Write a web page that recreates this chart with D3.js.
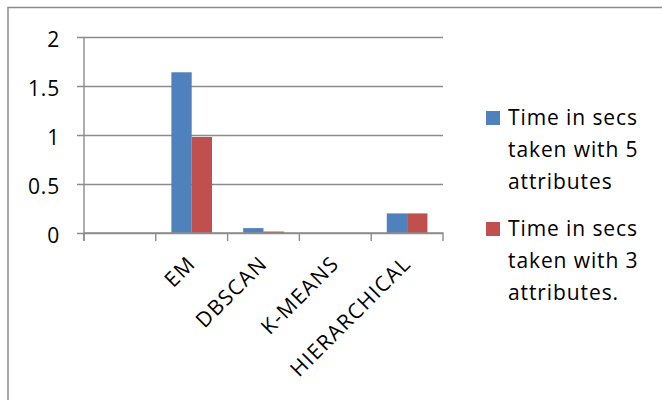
<!DOCTYPE html>
<html>
<head>
<meta charset="utf-8">
<script src="https://cdn.jsdelivr.net/npm/d3@7"></script>
<style>
  html, body { margin: 0; padding: 0; background: #fff; }
  svg { display: block; }
  text { font-family: "Open Sans", "Noto Sans", sans-serif; fill: #000; }
</style>
</head>
<body>
<svg id="chart" width="662" height="400"></svg>
<script>
// Clustering run times per algorithm (the first slot is an empty category)
const categories = ["", "EM", "DBSCAN", "K-MEANS", "HIERARCHICAL"];
const seriesNames = [
  ["Time in secs", "taken with 5", "attributes"],
  ["Time in secs", "taken with 3", "attributes."]
];
const time5 = [0, 1.64, 0.05, 0, 0.2];
const time3 = [0, 0.98, 0.015, 0, 0.2];
const yTicks = [0, 0.5, 1, 1.5, 2];
const colors = ["#4F81BD", "#C0504D"];

const svg = d3.select("#chart");
const gridColor = "#8c8c8c";

// outer frame
svg.append("rect")
  .attr("x", 8).attr("y", 7.5).attr("width", 680).attr("height", 420)
  .attr("fill", "none").attr("stroke", "#8a8a8a").attr("stroke-width", 1.5);

const plot = { left: 84, right: 443, top: 37, bottom: 233 };

const x = d3.scaleBand().domain(categories).range([plot.left, plot.right]);
const y = d3.scaleLinear().domain([0, 2]).range([plot.bottom, plot.top]);
const inner = d3.scaleBand().domain([0, 1]).range([0, x.bandwidth() * 0.566])
  .paddingInner(0);

// horizontal gridlines with tick stubs on the left
const yAxis = d3.axisLeft(y).tickValues(yTicks).tickSize(-(plot.right - plot.left) - 7)
  .tickFormat(d3.format("~g"));
const gy = svg.append("g").attr("transform", `translate(${plot.right},0)`).call(yAxis);
gy.select(".domain").remove();
gy.selectAll(".tick line").attr("stroke", gridColor).attr("stroke-width", 1.4)
  .attr("x1", -(plot.right - plot.left) - 7).attr("x2", 0);
gy.selectAll(".tick text")
  .attr("x", -(plot.right - plot.left) - 24)
  .attr("text-anchor", "end")
  .style("font-size", "21px").style("letter-spacing", "0.8px")
  .attr("dy", "0.45em");

// vertical axis line
svg.append("line")
  .attr("x1", plot.left).attr("x2", plot.left)
  .attr("y1", plot.top).attr("y2", plot.bottom + 8)
  .attr("stroke", gridColor).attr("stroke-width", 1.4);

// bars
const groupW = inner.range()[1];
const rows = categories.map((c, i) => ({ c, vals: [time5[i], time3[i]] }));
const g = svg.append("g");
rows.forEach(r => {
  r.vals.forEach((v, s) => {
    if (v <= 0) return;
    g.append("rect")
      .attr("x", x(r.c) + (x.bandwidth() - groupW) / 2 + inner(s))
      .attr("y", y(v))
      .attr("width", inner.bandwidth())
      .attr("height", y(0) - y(v))
      .attr("fill", colors[s]);
  });
});

// category axis
const xAxis = d3.axisBottom(x).tickSize(0).tickFormat("");
const gx = svg.append("g").attr("transform", `translate(0,${plot.bottom})`).call(xAxis);
gx.select(".domain").attr("stroke", gridColor).attr("stroke-width", 1.4)
  .attr("d", `M${plot.left},0H${plot.right}V8`);
// band-boundary tick marks
categories.forEach(c => {
  gx.append("line")
    .attr("x1", x(c)).attr("x2", x(c)).attr("y1", 0).attr("y2", 8)
    .attr("stroke", gridColor).attr("stroke-width", 1.4);
});

// rotated category labels
categories.forEach(c => {
  if (!c) return;
  const cx = x(c) + x.bandwidth() / 2 + 5;
  svg.append("text")
    .attr("transform", `translate(${cx},${plot.bottom + 32}) rotate(-45)`)
    .attr("text-anchor", "end")
    .style("font-size", "21px").style("letter-spacing", "1.3px")
    .text(c);
});

// legend
const legendTop = [111, 222];
seriesNames.forEach((lines, s) => {
  const ly = legendTop[s];
  svg.append("rect").attr("x", 486).attr("y", ly).attr("width", 14).attr("height", 14)
    .attr("fill", colors[s]);
  const t = svg.append("text").attr("x", 508).attr("y", ly + 14)
    .style("font-size", "21px").style("letter-spacing", "0.9px");
  lines.forEach((ln, k) => {
    t.append("tspan").attr("x", 508).attr("y", ly + 14 + k * 32).text(ln);
  });
});
</script>
</body>
</html>
